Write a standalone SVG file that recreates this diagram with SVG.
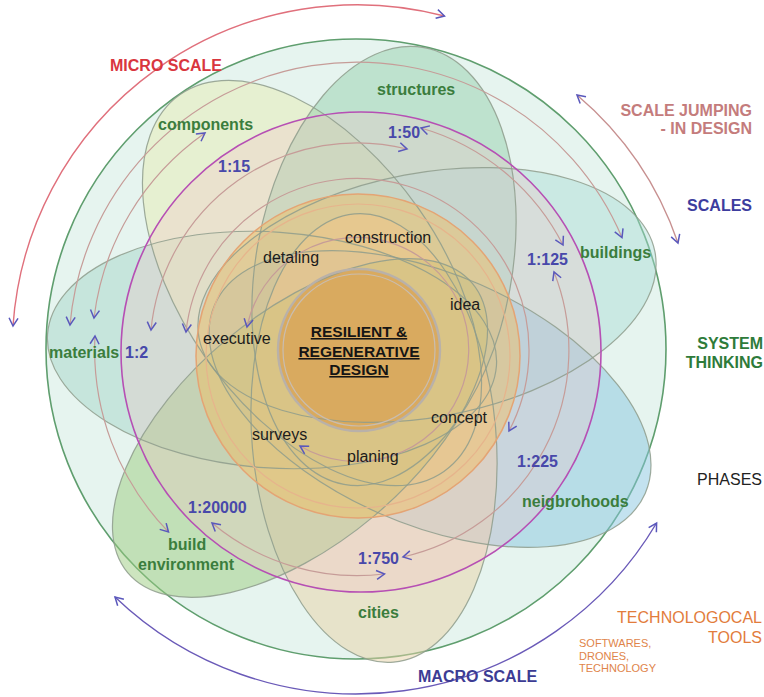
<svg xmlns="http://www.w3.org/2000/svg" xmlns:xlink="http://www.w3.org/1999/xlink" width="764" height="697" viewBox="0 0 764 697">
<style>
text{font-family:"Liberation Sans",Arial,sans-serif;}
.gl{font-size:16px;font-weight:bold;fill:#3b7d3d;}
.sc{font-size:16px;font-weight:bold;fill:#4848aa;}
.ph{font-size:16px;fill:#1c1c1c;}
.ctr{font-size:15.5px;font-weight:bold;fill:#151515;text-anchor:middle;text-decoration:underline;}
.outline{fill:none;stroke:#8e9c8c;stroke-width:1.2;stroke-opacity:0.85;}
.arc{fill:none;stroke:#c69c98;stroke-width:1.2;marker-start:url(#chev);marker-end:url(#chev);}
.big{fill:none;stroke-width:1.4;marker-start:url(#chev);marker-end:url(#chev);}
</style>
<defs>
<marker id="chev" viewBox="0 0 12 12" refX="10" refY="6" markerWidth="12" markerHeight="12" markerUnits="userSpaceOnUse" orient="auto-start-reverse">
<path d="M2 1.5 L10 6 L2 10.5" fill="none" stroke="#5a58bc" stroke-width="1.5"/>
</marker>
<ellipse id="e-structures" rx="222" ry="128" transform="translate(384 266) rotate(-79.6)"/>
<ellipse id="e-components" rx="230" ry="130" transform="translate(312 283) rotate(55)"/>
<ellipse id="e-buildings" rx="232" ry="122" transform="translate(427 295) rotate(-10.7)"/>
<ellipse id="e-neigh" rx="235" ry="125" transform="translate(430 399) rotate(23.7)"/>
<ellipse id="e-cities" rx="225" ry="122" transform="translate(374 438) rotate(85)"/>
<ellipse id="e-buildenv" rx="225" ry="115" transform="translate(300 428) rotate(140)"/>
<ellipse id="e-materials" rx="225" ry="118" transform="translate(272 350) rotate(4)"/>
</defs>
<rect width="764" height="697" fill="#ffffff"/>

<g id="system">
<circle cx="356" cy="349" r="310" fill="#e6f4ef" stroke="#5f9e6e" stroke-width="1.6"/>
</g>

<g id="node-materials"><use href="#e-materials" fill="#9ad0c0" fill-opacity="0.42"/></g>
<g id="node-components"><use href="#e-components" fill="#e6edbc" fill-opacity="0.6"/></g>
<g id="node-structures"><use href="#e-structures" fill="#8ecca6" fill-opacity="0.45"/></g>
<g id="node-buildings"><use href="#e-buildings" fill="#a8dcd4" fill-opacity="0.45"/></g>
<g id="node-neighborhoods"><use href="#e-neigh" fill="#88c6e0" fill-opacity="0.5"/></g>
<g id="node-cities"><use href="#e-cities" fill="#e8d2a6" fill-opacity="0.5"/></g>
<g id="node-buildenv"><use href="#e-buildenv" fill="#9ccc80" fill-opacity="0.5"/></g>

<g id="scales-ring">
<circle cx="361" cy="352" r="240" fill="#f6c4c8" fill-opacity="0.3"/>
</g>
<g id="phases-ring">
<circle cx="358" cy="356" r="162" fill="#f3bd5c" fill-opacity="0.45"/>
</g>
<g id="core">
<circle cx="359" cy="350" r="81" fill="#d9a04e" fill-opacity="0.7"/>
</g>

<g id="petal-outlines">
<use href="#e-materials" class="outline"/>
<use href="#e-components" class="outline"/>
<use href="#e-structures" class="outline"/>
<use href="#e-buildings" class="outline"/>
<use href="#e-neigh" class="outline"/>
<use href="#e-cities" class="outline"/>
<use href="#e-buildenv" class="outline"/>
</g>

<g id="ring-strokes" fill="none">
<circle cx="361" cy="352" r="240" stroke="#b64fb4" stroke-width="1.6"/>
<circle cx="358" cy="356" r="162" stroke="#e4a474" stroke-width="1.5"/>
<circle cx="358" cy="356" r="152" stroke="#e6b48c" stroke-width="1.2"/>
<circle cx="359" cy="350" r="81" stroke="#b9b1a9" stroke-width="2.4"/>
<circle cx="359" cy="350" r="76" stroke="#c9bdb0" stroke-width="1.2"/>
</g>

<g id="connectors">
<path class="arc" d="M70 325 A288 288 0 0 1 622 237.5"/>
<path class="arc" d="M205 133 A265 265 0 0 0 94 318"/>
<path class="arc" d="M95 336 A262 262 0 0 0 168.5 532"/>
<path class="arc" d="M407 149 A207 207 0 0 0 151 330"/>
<path class="arc" d="M421 128 A231 231 0 0 1 563 245"/>
<path class="arc" d="M554 272 A212 212 0 0 1 403 557"/>
<path class="arc" d="M384.5 574 A226 226 0 0 1 212 523"/>
<path class="arc" d="M186 332 A172 172 0 1 1 509 431"/>
<path class="arc" d="M247 327 A112 112 0 1 1 300 446"/>
<path class="big" stroke="#e0707c" d="M13 326 A345 345 0 0 1 444.5 16"/>
<path class="big" stroke="#c79090" d="M577 95 A337 337 0 0 1 678 243"/>
<path class="big" stroke="#6a5ab8" d="M115 597 A349 349 0 0 0 656.6 523"/>
</g>

<g id="labels-petals">
<text class="gl" x="377" y="95">structures</text>
<text class="gl" x="158" y="130">components</text>
<text class="gl" x="580" y="258">buildings</text>
<text class="gl" x="49" y="358">materials</text>
<text class="gl" x="522" y="507">neigbrohoods</text>
<text class="gl" x="358" y="618">cities</text>
<text class="gl" x="168" y="550">build</text>
<text class="gl" x="138" y="570">environment</text>
</g>
<g id="labels-scales">
<text class="sc" x="125" y="358">1:2</text>
<text class="sc" x="218" y="172">1:15</text>
<text class="sc" x="388" y="138">1:50</text>
<text class="sc" x="527" y="265">1:125</text>
<text class="sc" x="517" y="467">1:225</text>
<text class="sc" x="358" y="564">1:750</text>
<text class="sc" x="188" y="513">1:20000</text>
</g>
<g id="labels-phases">
<text class="ph" x="345" y="243">construction</text>
<text class="ph" x="263" y="263">detaling</text>
<text class="ph" x="450" y="310">idea</text>
<text class="ph" x="203" y="344">executive</text>
<text class="ph" x="431" y="423">concept</text>
<text class="ph" x="347" y="462">planing</text>
<text class="ph" x="252" y="440">surveys</text>
</g>
<g id="center-title">
<text class="ctr" x="359" y="337">RESILIENT &amp;</text>
<text class="ctr" x="359" y="357">REGENERATIVE</text>
<text class="ctr" x="359" y="375">DESIGN</text>
</g>
<g id="legend" font-size="16">
<text x="110" y="71" font-weight="bold" fill="#d9363e">MICRO SCALE</text>
<text x="752" y="116" font-weight="bold" fill="#c47c7c" text-anchor="end">SCALE JUMPING</text>
<text x="752" y="134" font-weight="bold" fill="#c47c7c" text-anchor="end">- IN DESIGN</text>
<text x="752" y="211" font-weight="bold" fill="#3d3d9e" text-anchor="end">SCALES</text>
<text x="763" y="349" font-weight="bold" fill="#2e7b3a" text-anchor="end">SYSTEM</text>
<text x="763" y="368" font-weight="bold" fill="#2e7b3a" text-anchor="end">THINKING</text>
<text x="762" y="485" fill="#222222" text-anchor="end">PHASES</text>
<text x="762" y="623" fill="#e27c3c" text-anchor="end">TECHNOLOGOCAL</text>
<text x="762" y="643" fill="#e27c3c" text-anchor="end">TOOLS</text>
<text x="579" y="647" font-size="11" fill="#e0844a">SOFTWARES,</text>
<text x="579" y="660" font-size="11" fill="#e0844a">DRONES,</text>
<text x="579" y="672" font-size="11" fill="#e0844a">TECHNOLOGY</text>
<text x="418" y="682" font-weight="bold" fill="#3c3c94">MACRO SCALE</text>
</g>
</svg>
